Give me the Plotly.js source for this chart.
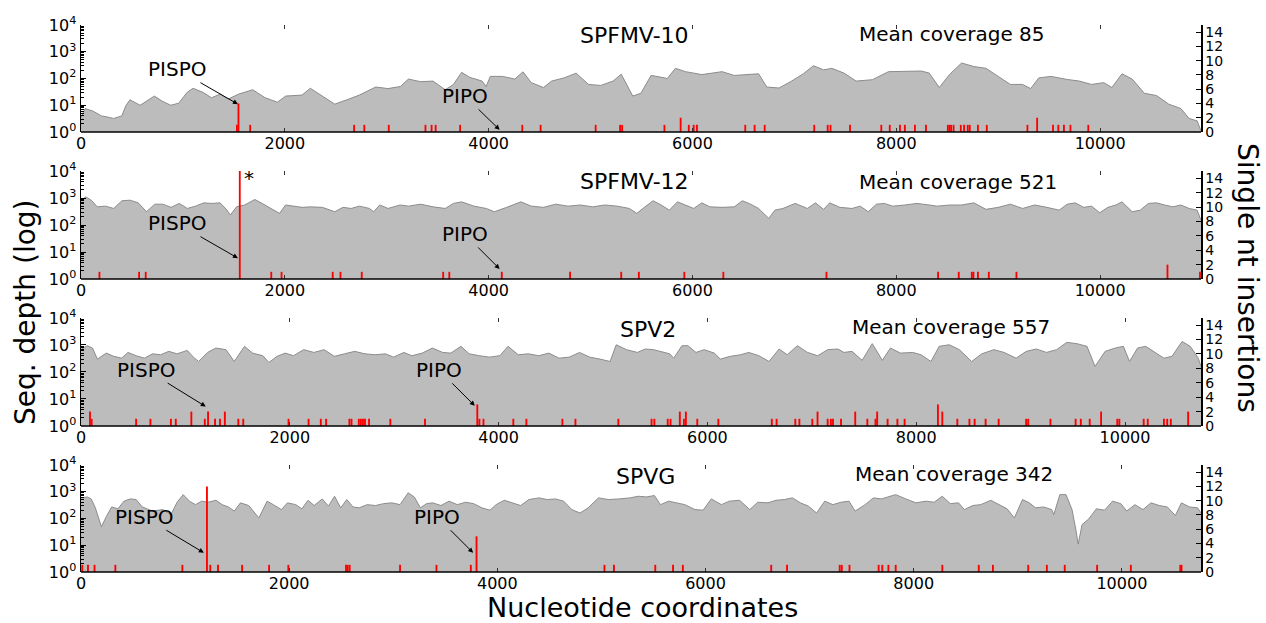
<!DOCTYPE html>
<html>
<head>
<meta charset="utf-8">
<script src="https://cdn.plot.ly/plotly-3.0.1.min.js"></script>
<style>html,body{margin:0;padding:0;background:#fff;}#chart{width:1266px;height:623px;}</style>
</head>
<body>
<div id="chart"></div>
<script>
// ---- data: [nucleotide position, sequencing depth] ----
const spfmv10Coverage = [[0,3.5],[40,7.5],[120,6],[200,4],[280,3.5],[320,3.2],[400,4],[440,9.5],[480,16],[580,10],[720,22],[800,14],[880,10],[960,12],[1040,30],[1100,43],[1200,30],[1280,19],[1365,26],[1445,17],[1545,26],[1685,38],[1807,19],[1928,13],[2008,22],[2169,24],[2250,43],[2369,22],[2490,11],[2610,16],[2731,24],[2892,48],[3012,42],[3133,50],[3213,95],[3333,76],[3454,80],[3574,38],[3655,60],[3735,170],[3815,110],[3936,80],[3976,50],[4016,120],[4137,120],[4257,95],[4337,178],[4418,70],[4538,46],[4618,80],[4739,105],[4859,158],[4980,60],[5100,55],[5221,80],[5301,145],[5381,38],[5414,22],[5494,28],[5594,130],[5673,115],[5753,100],[5833,240],[5932,180],[6092,140],[6291,180],[6410,130],[6530,140],[6649,150],[6729,48],[6849,44],[6968,78],[7088,150],[7187,300],[7287,210],[7367,240],[7486,160],[7606,80],[7765,90],[7924,180],[8084,180],[8243,190],[8323,160],[8422,46],[8522,140],[8641,380],[8761,280],[8880,240],[9000,120],[9120,60],[9239,60],[9319,42],[9398,105],[9518,120],[9677,92],[9797,80],[9916,60],[10036,70],[10116,46],[10215,150],[10315,95],[10434,28],[10554,23],[10673,11],[10793,7.5],[10873,3.2],[10952,2.6],[10990,1.1]];
const spfmv12Coverage = [[0,830],[48,1100],[100,830],[160,470],[241,500],[321,410],[402,790],[482,830],[562,660],[643,310],[723,590],[803,590],[884,450],[964,630],[1044,410],[1124,500],[1205,660],[1285,630],[1365,660],[1426,380],[1466,235],[1526,470],[1606,550],[1706,880],[1767,660],[1847,450],[1948,270],[2008,550],[2088,500],[2169,450],[2249,470],[2369,450],[2490,310],[2570,450],[2651,410],[2731,500],[2831,410],[2871,310],[2932,550],[3012,410],[3133,550],[3213,500],[3333,590],[3454,470],[3574,410],[3655,630],[3735,720],[3855,500],[3976,410],[4056,310],[4177,450],[4317,720],[4418,500],[4538,450],[4659,590],[4779,500],[4899,550],[5020,470],[5140,550],[5261,500],[5381,410],[5454,270],[5534,470],[5614,790],[5693,550],[5773,355],[5853,720],[5932,550],[6012,410],[6092,660],[6171,470],[6291,450],[6410,470],[6490,790],[6570,590],[6649,410],[6749,175],[6809,355],[6888,410],[7008,630],[7127,410],[7207,660],[7287,380],[7347,660],[7446,450],[7566,410],[7646,500],[7725,310],[7805,590],[7884,630],[7964,500],[8084,550],[8203,630],[8323,550],[8402,500],[8522,550],[8641,550],[8761,660],[8880,380],[9000,450],[9120,590],[9239,410],[9359,550],[9478,450],[9598,355],[9677,590],[9757,660],[9837,450],[9916,500],[9996,285],[10076,450],[10155,550],[10215,720],[10315,310],[10394,355],[10474,630],[10554,660],[10633,550],[10713,470],[10793,550],[10873,410],[10952,355],[10990,150]];
const spv2Coverage = [[0,700],[20,770],[59,940],[110,770],[157,300],[243,500],[313,380],[391,325],[450,530],[528,400],[607,325],[685,470],[763,435],[841,580],[920,470],[1018,630],[1076,355],[1127,245],[1213,530],[1292,770],[1389,670],[1468,245],[1566,890],[1644,500],[1742,400],[1800,225],[1879,380],[1957,500],[2035,400],[2133,670],[2231,530],[2329,670],[2427,380],[2524,470],[2622,580],[2720,470],[2818,435],[2916,470],[2994,355],[3092,530],[3170,400],[3268,500],[3366,770],[3464,530],[3542,500],[3640,890],[3718,470],[3816,400],[3914,355],[4012,400],[4090,890],[4188,435],[4286,470],[4384,400],[4481,500],[4579,325],[4677,355],[4775,530],[4873,355],[4971,300],[5068,245],[5127,1020],[5225,670],[5329,530],[5406,710],[5484,670],[5561,580],[5639,470],[5678,325],[5756,940],[5813,940],[5891,530],[5969,670],[6066,500],[6124,300],[6221,380],[6318,435],[6396,530],[6493,400],[6590,245],[6687,710],[6765,435],[6862,940],[6959,530],[7056,400],[7153,670],[7250,710],[7308,530],[7385,580],[7482,270],[7579,1120],[7676,270],[7753,770],[7850,500],[7967,530],[8045,435],[8142,245],[8220,890],[8317,1020],[8414,670],[8531,245],[8628,470],[8744,670],[8841,530],[8957,325],[9054,580],[9151,710],[9248,530],[9345,670],[9442,1250],[9539,1120],[9636,890],[9713,160],[9810,580],[9907,770],[9985,890],[10043,245],[10121,770],[10198,890],[10295,530],[10373,325],[10450,380],[10547,1350],[10625,890],[10702,325],[10728,160]];
const spvgCoverage = [[0,560],[12,590],[59,640],[98,540],[138,250],[196,49],[244,120],[295,270],[354,230],[413,445],[472,540],[530,510],[589,270],[688,190],[786,215],[864,140],[923,405],[982,780],[1041,445],[1100,330],[1159,445],[1218,405],[1297,480],[1356,330],[1415,270],[1473,190],[1532,385],[1611,305],[1709,105],[1788,445],[1847,330],[1925,215],[1984,385],[2063,330],[2122,230],[2181,480],[2240,305],[2318,540],[2377,290],[2436,680],[2495,250],[2554,510],[2613,270],[2672,250],[2750,330],[2829,305],[2907,360],[2986,385],[3065,330],[3143,910],[3202,640],[3261,250],[3320,360],[3379,385],[3458,305],[3536,445],[3615,330],[3694,405],[3772,360],[3851,250],[3929,205],[3988,330],[4067,480],[4145,385],[4224,305],[4303,510],[4401,590],[4480,510],[4558,540],[4637,445],[4715,215],[4794,160],[4872,250],[4971,590],[5069,510],[5167,540],[5276,590],[5353,680],[5431,640],[5509,720],[5567,330],[5645,445],[5723,385],[5801,330],[5899,215],[5977,205],[6055,540],[6152,330],[6230,445],[6327,480],[6425,215],[6502,405],[6600,385],[6678,480],[6756,510],[6834,590],[6912,385],[6989,290],[7067,160],[7145,445],[7223,330],[7301,405],[7378,445],[7437,190],[7534,330],[7612,590],[7690,540],[7768,680],[7826,780],[7924,540],[8021,385],[8118,445],[8196,405],[8274,680],[8352,360],[8430,385],[8488,215],[8566,305],[8644,330],[8741,480],[8819,330],[8897,230],[8967,105],[9045,510],[9111,385],[9170,250],[9248,270],[9326,215],[9346,140],[9404,780],[9463,780],[9521,215],[9560,34],[9580,11],[9618,60],[9677,92],[9755,230],[9833,205],[9911,445],[9989,360],[10047,190],[10125,330],[10202,215],[10280,385],[10358,305],[10436,270],[10514,130],[10572,385],[10650,270],[10728,250],[10760,160]];

// ---- data: [nucleotide position, single nt insertion count] ----
const spfmv10Insertions = [[1530,1],[1545,4],[1660,1],[2680,1],[2780,1],[3020,1],[3380,1],[3440,1],[3480,1],[3720,1],[4330,1],[4510,1],[5050,1],[5290,1],[5310,1],[5725,1],[5884,2],[5964,1],[6012,1],[6044,1],[6518,1],[6610,1],[6709,1],[7195,1],[7327,1],[7355,1],[7546,1],[7853,1],[7936,1],[8036,1],[8084,1],[8183,1],[8291,1],[8506,1],[8522,1],[8538,1],[8562,1],[8633,1],[8665,1],[8701,1],[8721,1],[8801,1],[8888,1],[9287,1],[9382,2],[9538,1],[9590,1],[9645,1],[9709,1],[9884,1]];
const spfmv12Insertions = [[181,1],[570,1],[635,1],[1558,60],[1867,1],[1968,1],[2470,1],[2546,1],[2755,1],[3554,1],[3614,1],[4129,1],[4799,1],[5301,1],[5474,1],[5920,1],[6303,1],[7315,1],[8410,1],[8613,1],[8741,1],[8757,1],[8801,1],[8908,1],[9179,1],[10661,2],[10980,1]];
const spv2Insertions = [[86,2],[102,1],[528,1],[665,1],[861,1],[908,1],[1057,2],[1186,1],[1217,2],[1284,1],[1331,1],[1378,2],[1507,1],[1554,1],[1988,1],[2180,1],[2297,1],[2348,1],[2571,1],[2591,1],[2661,1],[2681,1],[2701,1],[2720,1],[2759,1],[2963,1],[3295,1],[3796,3],[3816,1],[3855,1],[4141,1],[4266,1],[4611,1],[4736,1],[5147,1],[5465,1],[5492,1],[5620,1],[5647,1],[5736,2],[5775,1],[5794,2],[5903,1],[6105,1],[6617,1],[6663,1],[6842,1],[6881,1],[7005,1],[7055,2],[7152,1],[7183,1],[7203,1],[7280,1],[7416,2],[7532,1],[7610,1],[7626,2],[7726,1],[7820,1],[7889,1],[8208,3],[8250,2],[8394,1],[8510,1],[8560,1],[8665,1],[8790,1],[9053,1],[9073,1],[9286,1],[9527,1],[9577,1],[9662,1],[9771,2],[9926,1],[9946,1],[10179,1],[10218,1],[10373,1],[10404,1],[10439,1],[10605,2]];
const spvgInsertions = [[12,1],[67,1],[130,1],[330,1],[974,1],[1210,12],[1242,1],[1316,1],[1548,1],[1807,1],[1992,1],[2546,1],[2562,1],[2581,1],[3065,1],[3415,1],[3745,1],[3800,5],[5029,1],[5120,1],[5517,1],[5688,1],[5782,1],[6631,1],[6783,1],[7289,1],[7309,1],[7383,1],[7663,1],[7698,1],[7757,1],[7827,1],[8275,1],[8625,1],[8761,1],[9100,1],[9279,1],[9451,1],[9762,1],[10086,1],[10561,1],[10573,1]];

const virusNames = ["SPFMV-10", "SPFMV-12", "SPV2", "SPVG"];
const meanCoverage = [85, 521, 557, 342];
const genomeLength = [10990, 10990, 10728, 10760];
const pispoPos = [1540, 1540, 1195, 1180];
const pipoPos = [4108, 4108, 3772, 3767];
const depthTicks = [1, 10, 100, 1000, 10000];
const depthTickText = ["10<sup>0</sup>", "10<sup>1</sup>", "10<sup>2</sup>", "10<sup>3</sup>", "10<sup>4</sup>"];
const xTicks = [0, 2000, 4000, 6000, 8000, 10000];
const insTicks = [0, 2, 4, 6, 8, 10, 12, 14];

// ---- build ----
const FONT = "DejaVu Sans";
const coverages = [spfmv10Coverage, spfmv12Coverage, spv2Coverage, spvgCoverage];
const insertions = [spfmv10Insertions, spfmv12Insertions, spv2Insertions, spvgInsertions];
const domains = [[0.8044, 1], [0.5356, 0.7331], [0.2669, 0.4644], [0, 0.1956]];
const minorVals = [];
for (let e = 0; e < 4; e++) for (let m = 2; m <= 9; m++) minorVals.push(m * Math.pow(10, e));

const traces = [];
const layout = {
  width: 1266, height: 623,
  margin: {l: 81, r: 65, t: 25, b: 51},
  paper_bgcolor: "#ffffff", plot_bgcolor: "#ffffff",
  showlegend: false,
  font: {family: FONT, color: "#000", size: 16},
  annotations: [], shapes: []
};

const pispoHead = [3.9, 2.9, 2.7, 2.7];
const pipoHead = [0.3, 1.4, 2.8, 2.7];
const pispoOff = [[-61, -35], [-61, -35], [-60, -37], [-60, -36]];
const pipoOff = [[-35, -34], [-35, -35], [-36, -36], [-36, -36]];
const nameY = [0.9799, 0.7130, 0.4442, 0.1755];
const nameX = [0.4946, 0.4938, 0.5063, 0.5036];
const meanY = [0.9835, 0.7130, 0.4479, 0.1792];
const meanX = [0.7777, 0.7830, 0.7768, 0.7795];

for (let i = 0; i < 4; i++) {
  const xa = i === 0 ? "x" : "x" + (i + 1);
  const yl = i === 0 ? "y" : "y" + (2 * i + 1);
  const yr = "y" + (2 * i + 2);
  const xKey = i === 0 ? "xaxis" : "xaxis" + (i + 1);
  const ylKey = i === 0 ? "yaxis" : "yaxis" + (2 * i + 1);
  const yrKey = "yaxis" + (2 * i + 2);

  traces.push({
    type: "scatter", mode: "lines", xaxis: xa, yaxis: yl,
    x: coverages[i].map(p => p[0]), y: coverages[i].map(p => p[1]),
    fill: "tozeroy", fillcolor: "#bcbcbc",
    line: {color: "#8c8c8c", width: 1}, hoverinfo: "skip"
  });
  traces.push({
    type: "bar", xaxis: xa, yaxis: yr,
    x: insertions[i].map(p => p[0]), y: insertions[i].map(p => p[1]),
    width: 18, marker: {color: "#ff0000", line: {width: 0}}, hoverinfo: "skip"
  });

  layout[xKey] = {
    domain: [0, 1], anchor: yl, range: [0, genomeLength[i]],
    tickmode: "array", tickvals: xTicks, ticktext: xTicks.map(String),
    ticks: "inside", ticklen: 4, tickwidth: 1, tickcolor: "#333",
    mirror: "ticks", showline: false, showgrid: false, zeroline: false,
    tickfont: {family: FONT, size: 16, color: "#000"}
  };
  layout[ylKey] = {
    domain: domains[i], anchor: xa, type: "log", range: [0, 4],
    tickmode: "array", tickvals: depthTicks, ticktext: depthTickText,
    ticks: "inside", ticklen: 5, tickwidth: 1, tickcolor: "#000",
    minor: {tickmode: "array", tickvals: minorVals, ticks: "inside", ticklen: 2.5, tickcolor: "#000", tickwidth: 1},
    showline: true, linecolor: "#000", linewidth: 1.5,
    showgrid: false, zeroline: false,
    tickfont: {family: FONT, size: 16, color: "#000"}
  };
  layout[yrKey] = {
    overlaying: yl, side: "right", anchor: xa, range: [0, 15],
    tickmode: "array", tickvals: insTicks, ticktext: insTicks.map(String),
    ticks: "inside", ticklen: 5, tickwidth: 1, tickcolor: "#000",
    showline: true, linecolor: "#000", linewidth: 1.5,
    showgrid: false, zeroline: false,
    tickfont: {family: FONT, size: 14, color: "#000"}
  };
  layout.shapes.push({
    type: "line", xref: xa + " domain", yref: yl + " domain",
    x0: 0, x1: 1, y0: 0, y1: 0, line: {color: "#000", width: 1.5}
  });

  layout.annotations.push({
    xref: "paper", yref: "paper", x: nameX[i], y: nameY[i], text: virusNames[i],
    showarrow: false, xanchor: "center", yanchor: "middle", font: {family: FONT, size: 22, color: "#000"}
  });
  layout.annotations.push({
    xref: "paper", yref: "paper", x: meanX[i], y: meanY[i], text: "Mean coverage " + meanCoverage[i],
    showarrow: false, xanchor: "center", yanchor: "middle", font: {family: FONT, size: 20, color: "#000"}
  });
  layout.annotations.push({
    xref: xa, yref: yr, x: pispoPos[i], y: pispoHead[i], text: "PISPO",
    showarrow: true, ax: pispoOff[i][0], ay: pispoOff[i][1],
    arrowhead: 2, arrowsize: 1, arrowwidth: 1, arrowcolor: "#000",
    font: {family: FONT, size: 20, color: "#000"}
  });
  layout.annotations.push({
    xref: xa, yref: yr, x: pipoPos[i], y: pipoHead[i], text: "PIPO",
    showarrow: true, ax: pipoOff[i][0], ay: pipoOff[i][1],
    arrowhead: 2, arrowsize: 1, arrowwidth: 1, arrowcolor: "#000",
    font: {family: FONT, size: 20, color: "#000"}
  });
}

layout.annotations.push({
  xref: "paper", yref: "paper", x: 0.15, y: 0.7203, text: "*",
  showarrow: false, xanchor: "center", yanchor: "middle", font: {family: FONT, size: 20, color: "#000"}
});
layout.annotations.push({
  xref: "paper", yref: "paper", x: 0.501, y: -0.064, text: "Nucleotide coordinates",
  showarrow: false, xanchor: "center", yanchor: "middle", borderpad: 0,
  font: {family: FONT, size: 27, color: "#000"}
});
layout.annotations.push({
  xref: "paper", yref: "paper", x: -0.05, y: 0.4753, text: "Seq. depth (log)", textangle: -90,
  showarrow: false, xanchor: "center", yanchor: "middle", font: {family: FONT, size: 28, color: "#000"}
});
layout.annotations.push({
  xref: "paper", yref: "paper", x: 1.041, y: 0.5375, text: "Single nt insertions", textangle: 90,
  showarrow: false, xanchor: "center", yanchor: "middle", font: {family: FONT, size: 28, color: "#000"}
});

Plotly.newPlot("chart", traces, layout, {displayModeBar: false, staticPlot: true});
</script>
</body>
</html>
